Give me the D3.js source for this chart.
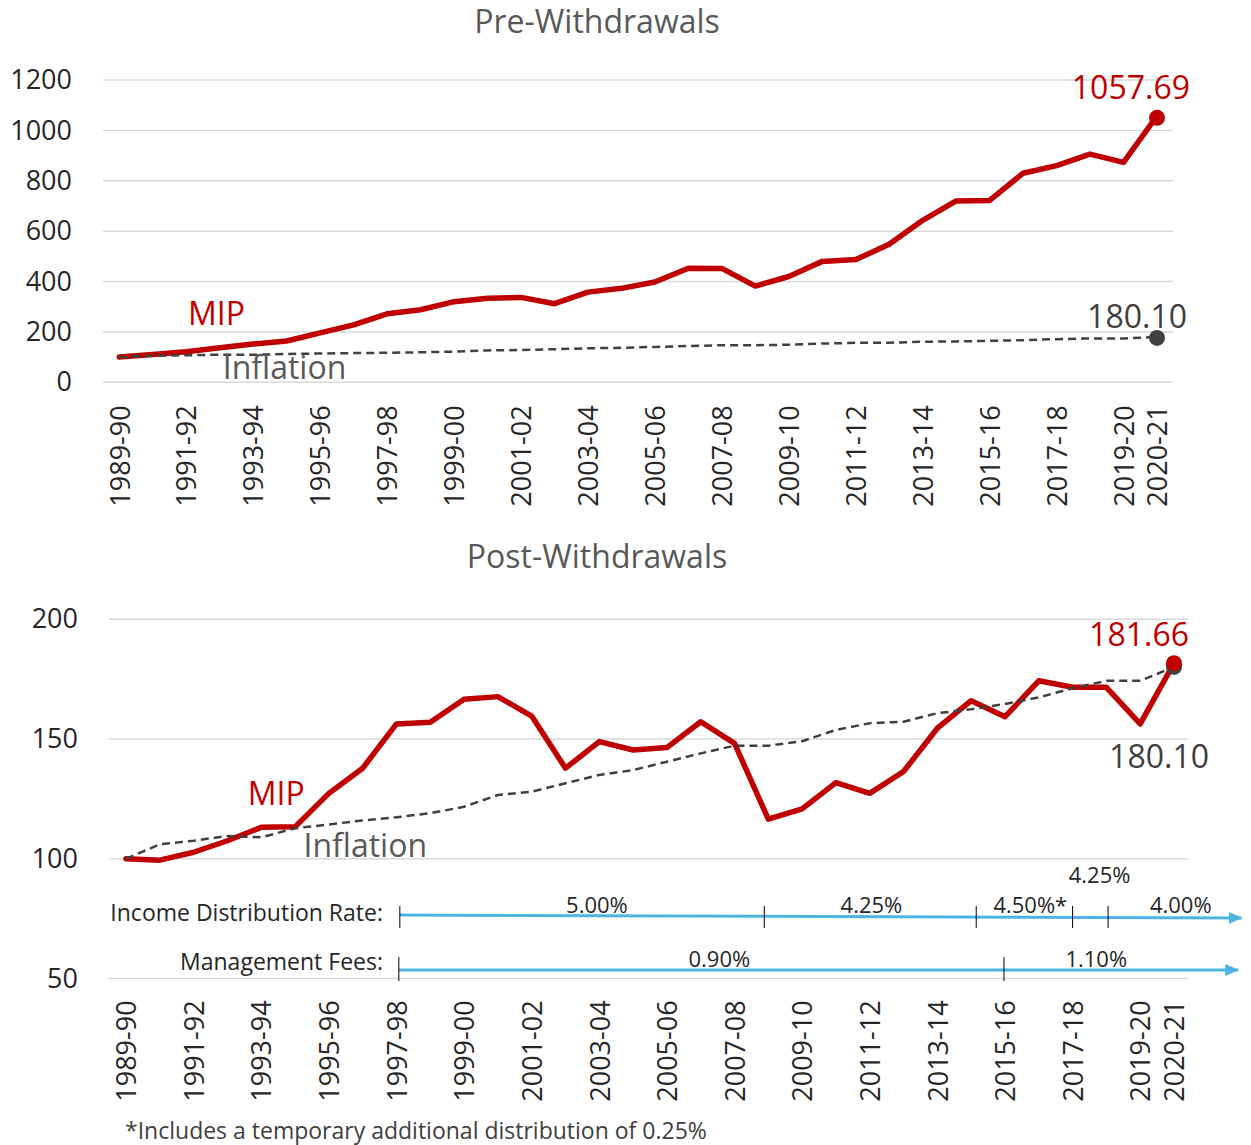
<!DOCTYPE html>
<html>
<head>
<meta charset="utf-8">
<script src="https://cdn.jsdelivr.net/npm/d3@7"></script>
<style>
  body { margin: 0; background: #fff; }
  text { font-family: "Open Sans", sans-serif; }
</style>
</head>
<body>
<svg width="1251" height="1145"></svg>
<script>
// fiscal years
const years = ["1989-90","1990-91","1991-92","1992-93","1993-94","1994-95","1995-96","1996-97",
  "1997-98","1998-99","1999-00","2000-01","2001-02","2002-03","2003-04","2004-05","2005-06",
  "2006-07","2007-08","2008-09","2009-10","2010-11","2011-12","2012-13","2013-14","2014-15",
  "2015-16","2016-17","2017-18","2018-19","2019-20","2020-21"];

// labelled ticks on the x axis (every second year + last)
const tickIdx = [0,2,4,6,8,10,12,14,16,18,20,22,24,26,28,30,31];

// MIP before withdrawals
const preMip = [100,110,121,137,152,164,196,228,272,288,320,334,337,312,358,373,398,453,452,
  382,420,480,487,548,643,720,722,830,860,906,873,1057.69];

// MIP after withdrawals
const postMip = [100,99.4,102.7,107.5,113.1,113.3,127.3,137.8,156.3,157,166.6,167.7,159.6,137.8,
  148.9,145.4,146.4,157.2,148.2,116.5,120.8,131.8,127.3,136.4,154.5,166,159.3,174.3,171.6,171.6,
  156.3,181.66];

// inflation index (same in both panels)
const inflation = [100,106,107.5,109.5,108.9,112.7,114.3,116,117.3,119,121.7,126.6,128,131.5,135,
  137,140.5,144,147.2,147.2,149.1,153.8,156.6,157.2,160.8,162.4,164.6,167.4,171.2,174.3,174.3,180.10];

const topTicks = [0,200,400,600,800,1000,1200];
const botTicks = [50,100,150,200];

// rate periods (start/end as year index, label position as year index)
const incomeRates = [
  { from: 8.1,   to: 18.88, at: 13.93, label: "5.00%" },
  { from: 18.88, to: 25.15, at: 22.05, label: "4.25%" },
  { from: 25.15, to: 28.0,  at: 26.75, label: "4.50%*" },
  { from: 28.0,  to: 29.05, at: 28.8,  label: "4.25%", up: true },
  { from: 29.05, to: 33.0,  at: 31.2,  label: "4.00%" }
];
const mgmtFees = [
  { from: 8.07,  to: 25.97, at: 17.55, label: "0.90%" },
  { from: 25.97, to: 32.9,  at: 28.7,  label: "1.10%" }
];

const RED = "#c00000", DARK = "#404040", GRID = "#d9d9d9", BLUE = "#4db3e3";

const svg = d3.select("svg");

svg.append("defs").append("marker")
  .attr("id", "arrow")
  .attr("viewBox", "0 -6 14 12")
  .attr("refX", 13)
  .attr("refY", 0)
  .attr("markerUnits", "userSpaceOnUse")
  .attr("markerWidth", 14)
  .attr("markerHeight", 12)
  .attr("orient", "auto")
  .append("path")
  .attr("d", "M0,-6L14,0L0,6Z")
  .attr("fill", BLUE);

function panel(opt) {
  const g = svg.append("g");
  const x = d3.scaleLinear().domain([0, 31]).range(opt.xRange);
  const y = d3.scaleLinear().domain(opt.yDomain).range(opt.yRange);

  // title
  g.append("text")
    .attr("x", opt.titleX).attr("y", opt.titleY)
    .attr("text-anchor", "middle")
    .attr("font-size", 32).attr("fill", "#595959")
    .text(opt.title);

  // grid
  g.append("g").selectAll("line")
    .data(opt.ticks)
    .join("line")
    .attr("x1", opt.gridX[0]).attr("x2", opt.gridX[1])
    .attr("y1", d => y(d)).attr("y2", d => y(d))
    .attr("stroke", GRID).attr("stroke-width", 1.5);

  // y axis labels
  const ya = g.append("g")
    .attr("transform", `translate(${opt.yLabelX},0)`)
    .call(d3.axisLeft(y).tickValues(opt.ticks).tickFormat(d3.format("d")).tickSize(0).tickPadding(0));
  ya.select(".domain").remove();
  ya.selectAll("text").attr("font-size", 27).attr("fill", "#262626")
    .attr("font-family", "Open Sans, sans-serif");

  // x axis labels
  const xa = g.append("g")
    .attr("transform", `translate(0,${y(opt.yDomain[0])})`)
    .call(d3.axisBottom(x).tickValues(tickIdx).tickFormat(i => years[i]).tickSize(0));
  xa.select(".domain").remove();
  xa.selectAll("text")
    .attr("font-size", 27).attr("fill", "#262626")
    .attr("font-family", "Open Sans, sans-serif")
    .attr("text-anchor", "end")
    .attr("transform", "rotate(-90)")
    .attr("x", -opt.xLabelGap).attr("y", 0).attr("dy", "0.36em");

  const line = d3.line().x((d, i) => x(i)).y(d => y(d));

  g.append("path").datum(opt.mip)
    .attr("d", line).attr("fill", "none")
    .attr("stroke", RED).attr("stroke-width", 5.5)
    .attr("stroke-linejoin", "round").attr("stroke-linecap", "round");

  g.append("path").datum(inflation)
    .attr("d", line).attr("fill", "none")
    .attr("stroke", DARK).attr("stroke-width", 2.5)
    .attr("stroke-dasharray", "8,5");

  const last = 31;
  g.append("circle").attr("cx", x(last)).attr("cy", y(inflation[last]) + opt.grayDotShift)
    .attr("r", 8).attr("fill", DARK);
  g.append("circle").attr("cx", x(last)).attr("cy", y(opt.mip[last]) + opt.redDotShift)
    .attr("r", 8).attr("fill", RED);

  // end value labels
  g.append("text")
    .attr("x", x(last) + opt.redLab[0]).attr("y", y(opt.mip[last]) + opt.redLab[1])
    .attr("text-anchor", "end").attr("font-size", 32).attr("fill", RED)
    .text(opt.mip[last].toFixed(2));
  g.append("text")
    .attr("x", x(last) + opt.grayLab[0]).attr("y", y(inflation[last]) + opt.grayLab[1])
    .attr("text-anchor", "end").attr("font-size", 32).attr("fill", DARK)
    .text(inflation[last].toFixed(2));

  // series names
  g.append("text")
    .attr("x", x(opt.mipName[0])).attr("y", y(opt.mipName[1]))
    .attr("font-size", 32).attr("fill", RED).text("MIP");
  g.append("text")
    .attr("x", x(opt.infName[0])).attr("y", y(opt.infName[1]))
    .attr("font-size", 32).attr("fill", "#595959").text("Inflation");

  return { x, y };
}

panel({
  title: "Pre-Withdrawals", titleX: 597, titleY: 33,
  xRange: [119.3, 1157], yDomain: [0, 1200], yRange: [382.3, 80],
  gridX: [103, 1173], ticks: topTicks, yLabelX: 72, xLabelGap: 23,
  mip: preMip, grayDotShift: 1, redDotShift: 2,
  redLab: [33, -17], grayLab: [30, -9],
  mipName: [2.05, 228], infName: [3.09, 12]
});

const bot = panel({
  title: "Post-Withdrawals", titleX: 597, titleY: 568,
  xRange: [126, 1174], yDomain: [50, 200], yRange: [978.4, 619.3],
  gridX: [109, 1188], ticks: botTicks, yLabelX: 78, xLabelGap: 22,
  mip: postMip, grayDotShift: 0, redDotShift: 0,
  redLab: [15, -17], grayLab: [35, 101],
  mipName: [3.6, 122.5], infName: [5.25, 100.8]
});

// rate annotations under the bottom chart
function rateRow(rows, lineY, tickY, labY, upY, title, titleY) {
  const g = svg.append("g");
  const x = bot.x;
  g.append("text")
    .attr("x", 383).attr("y", titleY)
    .attr("text-anchor", "end").attr("font-size", 23).attr("fill", "#262626")
    .text(title);
  g.append("line")
    .attr("x1", x(rows[0].from)).attr("x2", x(rows[rows.length - 1].to))
    .attr("y1", lineY[0]).attr("y2", lineY[1])
    .attr("stroke", BLUE).attr("stroke-width", 3)
    .attr("marker-end", "url(#arrow)");
  g.selectAll(".tk").data(rows).join("line")
    .attr("x1", d => x(d.from)).attr("x2", d => x(d.from))
    .attr("y1", tickY[0]).attr("y2", tickY[1])
    .attr("stroke", "#000").attr("stroke-width", 1);
  g.selectAll(".lb").data(rows).join("text")
    .attr("x", d => x(d.at)).attr("y", d => d.up ? upY : labY)
    .attr("text-anchor", "middle").attr("font-size", 22).attr("fill", "#262626")
    .text(d => d.label);
}

rateRow(incomeRates, [915, 918], [906, 928], 913, 883, "Income Distribution Rate:", 921);
rateRow(mgmtFees, [970, 970], [957, 981], 967, 0, "Management Fees:", 970);

svg.append("text")
  .attr("x", 125).attr("y", 1139)
  .attr("font-size", 23).attr("fill", DARK)
  .text("*Includes a temporary additional distribution of 0.25%");
</script>
</body>
</html>
